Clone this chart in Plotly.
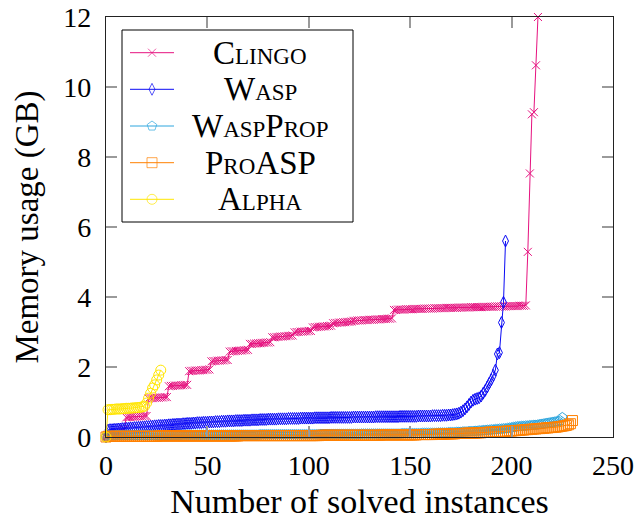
import plotly.graph_objects as go

# Memory usage (GB) of each solver, sorted ascending; index = number of solved instances
clingo_mem = [
    0.00,
    0.03, 0.05, 0.06, 0.08, 0.10, 0.12, 0.15, 0.18, 0.22,
    0.56, 0.57, 0.57, 0.58, 0.58, 0.58, 0.59, 0.59, 0.59, 0.60, 0.60,
    1.10, 1.11, 1.11, 1.12, 1.12, 1.12, 1.13, 1.13, 1.14, 1.14,
    1.45, 1.46, 1.46, 1.47, 1.47, 1.47, 1.48, 1.48, 1.49, 1.49,
    1.88, 1.89, 1.89, 1.90, 1.90, 1.90, 1.91, 1.91, 1.92, 1.92, 1.93,
    2.16, 2.17, 2.17, 2.18, 2.18, 2.19, 2.19, 2.20, 2.20,
    2.44, 2.45, 2.45, 2.46, 2.46, 2.47, 2.47, 2.48, 2.48, 2.49,
    2.66, 2.66, 2.67, 2.67, 2.68, 2.68, 2.69, 2.69, 2.70, 2.70, 2.71,
    2.85, 2.85, 2.86, 2.86, 2.87, 2.87, 2.88, 2.88, 2.89, 2.89, 2.90,
    2.99, 3.00, 3.00, 3.01, 3.01, 3.02, 3.02, 3.03, 3.03,
    3.13, 3.14, 3.14, 3.15, 3.15, 3.16, 3.16, 3.17, 3.17, 3.18,
    3.25, 3.26, 3.26, 3.27, 3.27, 3.28, 3.28, 3.29, 3.29, 3.30,
    3.32, 3.32, 3.33, 3.33, 3.33, 3.34, 3.34, 3.34, 3.35, 3.35,
    3.35, 3.36, 3.36, 3.36, 3.37, 3.37, 3.37, 3.38, 3.38, 3.39,
    3.63, 3.63, 3.64, 3.64, 3.64, 3.64, 3.65, 3.65, 3.65, 3.65,
    3.66, 3.66, 3.66, 3.66, 3.66, 3.67, 3.67, 3.67, 3.67, 3.67,
    3.68, 3.68, 3.68, 3.68, 3.68, 3.68, 3.69, 3.69, 3.69, 3.69,
    3.69, 3.69, 3.70, 3.70, 3.70, 3.70, 3.70, 3.70, 3.71, 3.71,
    3.71, 3.71, 3.71, 3.71, 3.72, 3.72, 3.72, 3.72, 3.72, 3.72,
    3.73, 3.73, 3.73, 3.73, 3.73, 3.73, 3.74, 3.74, 3.74, 3.74,
    3.74, 3.74, 3.75, 3.75, 3.75, 3.76,
    5.29, 7.53, 9.22, 9.28, 10.62, 12.00,
]

wasp_mem = [
    0.00,
    0.20, 0.21, 0.21, 0.22, 0.22, 0.23, 0.23, 0.24, 0.24, 0.25,
    0.25, 0.26, 0.26, 0.27, 0.27, 0.28, 0.28, 0.29, 0.29, 0.30,
    0.30, 0.31, 0.31, 0.32, 0.32, 0.33, 0.33, 0.33, 0.34, 0.34,
    0.35, 0.35, 0.36, 0.36, 0.37, 0.37, 0.37, 0.38, 0.38, 0.39,
    0.39, 0.39, 0.40, 0.40, 0.41, 0.41, 0.41, 0.42, 0.42, 0.42,
    0.43, 0.43, 0.43, 0.44, 0.44, 0.44, 0.45, 0.45, 0.45, 0.46,
    0.46, 0.46, 0.46, 0.47, 0.47, 0.47, 0.47, 0.48, 0.48, 0.48,
    0.48, 0.49, 0.49, 0.49, 0.49, 0.50, 0.50, 0.50, 0.50, 0.51,
    0.51, 0.51, 0.51, 0.51, 0.52, 0.52, 0.52, 0.52, 0.52, 0.53,
    0.53, 0.53, 0.53, 0.53, 0.53, 0.54, 0.54, 0.54, 0.54, 0.54,
    0.54, 0.54, 0.55, 0.55, 0.55, 0.55, 0.55, 0.55, 0.55, 0.55,
    0.56, 0.56, 0.56, 0.56, 0.56, 0.56, 0.56, 0.56, 0.56, 0.56,
    0.56, 0.57, 0.57, 0.57, 0.57, 0.57, 0.57, 0.57, 0.57, 0.57,
    0.57, 0.57, 0.58, 0.58, 0.58, 0.58, 0.58, 0.58, 0.58, 0.58,
    0.58, 0.58, 0.58, 0.58, 0.59, 0.59, 0.59, 0.59, 0.59, 0.59,
    0.59, 0.59, 0.59, 0.60, 0.60, 0.60, 0.60, 0.60, 0.60, 0.60,
    0.61, 0.61, 0.61, 0.61, 0.61, 0.62, 0.62, 0.62, 0.63, 0.63,
    0.64, 0.65, 0.66, 0.68, 0.71, 0.75, 0.80, 0.86, 0.93, 1.00,
    1.05, 1.08, 1.10, 1.12, 1.17, 1.25, 1.33, 1.43, 1.54, 1.64,
    1.76, 1.91, 2.37, 2.41, 3.27, 3.85, 5.60,
]

waspprop_mem = [
    0.00,
    0.04, 0.04, 0.04, 0.04, 0.05, 0.05, 0.05, 0.05, 0.05, 0.05,
    0.05, 0.05, 0.05, 0.05, 0.05, 0.05, 0.05, 0.05, 0.05, 0.05,
    0.05, 0.05, 0.05, 0.05, 0.05, 0.05, 0.05, 0.05, 0.05, 0.05,
    0.05, 0.05, 0.05, 0.05, 0.05, 0.05, 0.06, 0.06, 0.06, 0.06,
    0.06, 0.06, 0.06, 0.06, 0.06, 0.06, 0.06, 0.06, 0.06, 0.06,
    0.06, 0.06, 0.06, 0.06, 0.06, 0.06, 0.06, 0.06, 0.06, 0.06,
    0.06, 0.06, 0.06, 0.06, 0.06, 0.06, 0.06, 0.06, 0.06, 0.06,
    0.06, 0.06, 0.06, 0.06, 0.06, 0.07, 0.07, 0.07, 0.07, 0.07,
    0.07, 0.07, 0.07, 0.07, 0.07, 0.07, 0.07, 0.07, 0.07, 0.07,
    0.07, 0.07, 0.07, 0.07, 0.07, 0.07, 0.07, 0.07, 0.07, 0.07,
    0.07, 0.07, 0.07, 0.07, 0.07, 0.08, 0.08, 0.08, 0.08, 0.08,
    0.08, 0.08, 0.08, 0.08, 0.08, 0.08, 0.08, 0.08, 0.08, 0.08,
    0.08, 0.08, 0.08, 0.08, 0.08, 0.09, 0.09, 0.09, 0.09, 0.09,
    0.09, 0.09, 0.09, 0.09, 0.09, 0.09, 0.09, 0.09, 0.09, 0.09,
    0.09, 0.09, 0.09, 0.09, 0.09, 0.10, 0.10, 0.10, 0.10, 0.10,
    0.10, 0.10, 0.10, 0.10, 0.10, 0.11, 0.11, 0.11, 0.11, 0.11,
    0.11, 0.11, 0.11, 0.12, 0.12, 0.12, 0.12, 0.12, 0.13, 0.13,
    0.13, 0.13, 0.14, 0.14, 0.14, 0.15, 0.15, 0.15, 0.16, 0.16,
    0.16, 0.17, 0.17, 0.18, 0.18, 0.19, 0.19, 0.20, 0.20, 0.21,
    0.21, 0.22, 0.22, 0.23, 0.23, 0.24, 0.24, 0.25, 0.26, 0.27,
    0.28, 0.29, 0.30, 0.30, 0.31, 0.31, 0.32, 0.32, 0.33, 0.33,
    0.34, 0.34, 0.35, 0.36, 0.37, 0.38, 0.39, 0.40, 0.41, 0.42,
    0.43, 0.44, 0.45, 0.47, 0.56,
]

proasp_mem = [
    0.00,
    0.02, 0.02, 0.02, 0.02, 0.02, 0.02, 0.02, 0.02, 0.02, 0.02,
    0.02, 0.02, 0.02, 0.02, 0.02, 0.02, 0.02, 0.02, 0.02, 0.02,
    0.02, 0.02, 0.02, 0.02, 0.02, 0.03, 0.03, 0.03, 0.03, 0.03,
    0.03, 0.03, 0.03, 0.03, 0.03, 0.03, 0.03, 0.03, 0.03, 0.03,
    0.03, 0.03, 0.03, 0.03, 0.03, 0.03, 0.03, 0.03, 0.03, 0.03,
    0.03, 0.03, 0.03, 0.03, 0.03, 0.03, 0.03, 0.03, 0.03, 0.03,
    0.03, 0.03, 0.03, 0.03, 0.03, 0.04, 0.04, 0.04, 0.04, 0.04,
    0.04, 0.04, 0.04, 0.04, 0.04, 0.04, 0.04, 0.04, 0.04, 0.04,
    0.04, 0.04, 0.04, 0.04, 0.04, 0.04, 0.04, 0.04, 0.04, 0.04,
    0.04, 0.04, 0.04, 0.04, 0.04, 0.04, 0.04, 0.04, 0.04, 0.04,
    0.04, 0.04, 0.04, 0.04, 0.04, 0.05, 0.05, 0.05, 0.05, 0.05,
    0.05, 0.05, 0.05, 0.05, 0.05, 0.05, 0.05, 0.05, 0.05, 0.05,
    0.05, 0.05, 0.05, 0.05, 0.05, 0.05, 0.05, 0.05, 0.05, 0.05,
    0.05, 0.05, 0.05, 0.05, 0.05, 0.06, 0.06, 0.06, 0.06, 0.06,
    0.06, 0.06, 0.06, 0.06, 0.06, 0.06, 0.06, 0.06, 0.06, 0.06,
    0.06, 0.06, 0.06, 0.07, 0.07, 0.07, 0.07, 0.07, 0.07, 0.07,
    0.07, 0.08, 0.08, 0.08, 0.08, 0.08, 0.08, 0.09, 0.09, 0.09,
    0.09, 0.09, 0.10, 0.10, 0.10, 0.10, 0.11, 0.11, 0.11, 0.11,
    0.11, 0.11, 0.12, 0.12, 0.12, 0.13, 0.13, 0.13, 0.14, 0.14,
    0.14, 0.15, 0.15, 0.15, 0.16, 0.16, 0.16, 0.17, 0.17, 0.17,
    0.18, 0.18, 0.19, 0.19, 0.20, 0.20, 0.21, 0.21, 0.22, 0.22,
    0.23, 0.23, 0.24, 0.24, 0.25, 0.25, 0.26, 0.26, 0.27, 0.27,
    0.28, 0.28, 0.29, 0.30, 0.31, 0.32, 0.33, 0.35, 0.38, 0.47,
]

alpha_mem = [
    0.00,
    0.78, 0.78, 0.79, 0.79, 0.80, 0.80, 0.80, 0.81, 0.81, 0.82,
    0.82, 0.82, 0.83, 0.83, 0.84, 0.84, 0.85, 0.86, 0.88,
    0.97, 1.11, 1.25, 1.40, 1.49, 1.63, 1.77, 1.91,
]

solver_names = ["Clingo", "Wasp", "WaspProp", "ProASP", "Alpha"]
x_ticks = [0, 50, 100, 150, 200, 250]
y_ticks = [0, 2, 4, 6, 8, 10, 12]

FONT = "Liberation Serif"
series = [
    # (values, colour, marker symbol, marker size)
    (clingo_mem, "#E6127F", "x-thin-open", 8),
    (wasp_mem, "#0A0AF5", "diamond-tall-open", 8.5),
    (waspprop_mem, "#2EA6DE", "pentagon-open", 10),
    (proasp_mem, "#FF8000", "square-open", 10),
    (alpha_mem, "#FFE600", "circle-open", 10),
]

fig = go.Figure()
for name, (vals, color, sym, size) in zip(solver_names, series):
    fig.add_trace(go.Scatter(
        x=list(range(len(vals))), y=vals, name=name, mode="lines+markers",
        line=dict(color=color, width=1),
        marker=dict(symbol=sym, size=size, color=color, line=dict(color=color, width=1)),
        cliponaxis=False, showlegend=False,
    ))

# Hand-drawn legend on a pixel-scaled overlay axis (plot area spans 106..613 x 17..437)
L, R, T, B = 106, 613, 17, 437
row_y = [52.7, 89.3, 126.0, 162.7, 199.3]
for (vals, color, sym, size), name, yy in zip(series, solver_names, row_y):
    fig.add_trace(go.Scatter(
        x=[130, 152, 174], y=[yy, yy, yy], xaxis="x2", yaxis="y2",
        mode="lines+markers", line=dict(color=color, width=1),
        marker=dict(symbol=sym, size=[0, size, 0], color=color,
                    line=dict(color=color, width=1)),
        cliponaxis=False, showlegend=False, hoverinfo="skip",
    ))
    fig.add_annotation(
        x=260, y=yy, xref="x2", yref="y2", text=name, showarrow=False,
        xanchor="center", yanchor="middle",
        font=dict(family=FONT, size=33, color="black", variant="small-caps"),
    )

fig.add_shape(type="rect", xref="x2", yref="y2", x0=122, x1=353, y0=30, y1=222,
              line=dict(color="black", width=1), fillcolor="white", layer="below")

axis_common = dict(
    showgrid=False, zeroline=False, showline=True, linecolor="#222", linewidth=1.3,
    mirror="ticks", ticks="inside", ticklen=11, tickwidth=1.5, tickcolor="#9a9a9a",
    tickfont=dict(family=FONT, size=28, color="black"), automargin=False,
)

fig.update_layout(
    width=639, height=520,
    margin=dict(l=L, r=639 - R, t=T, b=520 - B),
    paper_bgcolor="white", plot_bgcolor="white",
    xaxis=dict(axis_common, range=[0, 250], tickvals=x_ticks,
               ticklabelstandoff=3,
               title=dict(text="Number of solved instances", standoff=10,
                          font=dict(family=FONT, size=34, color="black"))),
    yaxis=dict(axis_common, range=[0, 12], tickvals=y_ticks,
               ticklabelstandoff=8,
               title=dict(text="Memory usage (GB)", standoff=14,
                          font=dict(family=FONT, size=33, color="black"))),
    xaxis2=dict(overlaying="x", range=[L, R], visible=False, automargin=False),
    yaxis2=dict(overlaying="y", range=[B, T], visible=False, automargin=False),
)

fig.write_html("out.html")
